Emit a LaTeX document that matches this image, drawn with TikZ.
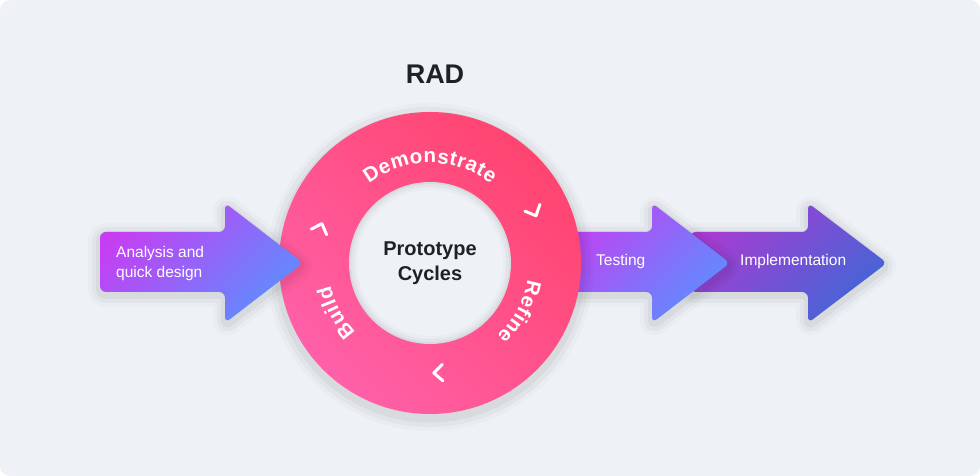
\documentclass[tikz,border=0pt]{standalone}
\usepackage{fontspec}
\setmainfont{Liberation Sans}
\usetikzlibrary{calc,decorations.text}
\definecolor{bgc}{HTML}{EEF1F5}
\definecolor{pA}{HTML}{C63EF2}
\definecolor{bA}{HTML}{5E8DFF}
\definecolor{pI}{HTML}{A83CD2}
\definecolor{bI}{HTML}{4266D6}
\definecolor{rL}{HTML}{FF60A8}
\definecolor{rR}{HTML}{FF4470}
\definecolor{ink}{HTML}{1E2226}
\def\pathA{(100,184) -- (100,244) -- (225,244) -- (225,273) -- (303,213) -- (225,153) -- (225,184) -- cycle}
\def\pathT{(540,184) -- (540,244) -- (652,244) -- (652,273) -- (730,213) -- (652,153) -- (652,184) -- cycle}
\def\pathI{(690,184) -- (690,244) -- (808,244) -- (808,273) -- (887,213) -- (808,153) -- (808,184) -- cycle}
\tikzset{
  shadowstroke/.style={draw=black, opacity=#1, line join=round, rounded corners=6pt, shift={(0,-3)}},
  arrowshape/.style={rounded corners=6pt},
  lbl/.style={text=white, font=\fontsize{15.5}{20}\selectfont, inner sep=0pt, align=left},
  chev/.style={draw=white, line width=3pt, line cap=round, line join=round},
  ringtext/.style={decorate, decoration={text effects along path, text={#1}, text align=center,
      text effects/.cd, text along path,
      characters={text=white, font=\bfseries\fontsize{20.5}{20.5}\selectfont, inner ysep=0pt, inner xsep=0pt, anchor=base},
      character widths={font=\bfseries\fontsize{20.5}{20.5}\selectfont, inner xsep=0.3pt, inner ysep=0pt}}}
}
\begin{document}
\begin{tikzpicture}[x=1pt,y=1pt]
\useasboundingbox (0,0) rectangle (980,476);
\fill[white] (0,0) rectangle (980,476);
\fill[bgc, rounded corners=10pt] (0,0) rectangle (980,476);
\coordinate (c) at (430,213);

% Implementation arrow
\foreach \w/\o in {24/0.02,16/0.03,8/0.04}
  \path[shadowstroke=\o, line width=\w pt] \pathI;
\shade[arrowshape, top color=pI, bottom color=bI, shading angle=45] \pathI;

% Testing arrow
\foreach \w/\o in {24/0.02,16/0.03,8/0.04}
  \path[shadowstroke=\o, line width=\w pt] \pathT;
\shade[arrowshape, top color=pA, bottom color=bA, shading angle=45] \pathT;

% ring
\foreach \w/\o in {26/0.02,18/0.03,9/0.04}
  \draw[black, opacity=\o, line width=\w pt] ([yshift=-4pt]c) circle[radius=151];
\shade[top color=rR, bottom color=rL, shading angle=-45] (c) circle[radius=151];
\fill[bgc] (c) circle[radius=81];
\begin{scope}
  \clip (c) circle[radius=81];
  \foreach \w/\o in {16/0.02,10/0.03,4/0.04}
    \draw[black, opacity=\o, line width=\w pt] (c) circle[radius=81];
\end{scope}

% ring labels
\path[ringtext=Demonstrate] ($(c)+(150:100)$) arc[start angle=150, end angle=30, radius=100];
\path[ringtext=Refine] ($(c)+(1.5:99)$) arc[start angle=1.5, end angle=-58.5, radius=99];
\path[ringtext=Build] ($(c)+(238:102)$) arc[start angle=238, end angle=178, radius=102];

% chevrons
\foreach \t/\r in {160/115, 24/116, -88/110}{
  \pgfmathsetmacro{\d}{\t-90}
  \draw[chev] ($(c)+(\t:\r)+(\d+137:12)$) -- ($(c)+(\t:\r)$) -- ($(c)+(\t:\r)+(\d-137:12)$);
}

% Analysis arrow
\foreach \w/\o in {24/0.02,16/0.03,8/0.04}
  \path[shadowstroke=\o, line width=\w pt] \pathA;
\shade[arrowshape, top color=pA, bottom color=bA, shading angle=45] \pathA;

% texts
\node[lbl, anchor=west] (tA) at (116,213) {Analysis and\\quick design};
\node[lbl, anchor=base west] (tT) at (596,210) {Testing};
\node[lbl, anchor=base west] (tI) at (740,210) {Implementation};
\node[text=ink, font=\bfseries\fontsize{27}{27}\selectfont, anchor=base, inner sep=0pt] (title) at (435,392) {RAD};
\node[text=ink, font=\bfseries\fontsize{20}{25}\selectfont, align=center, inner sep=0pt] (proto) at (c) {Prototype\\Cycles};
\end{tikzpicture}
\end{document}
